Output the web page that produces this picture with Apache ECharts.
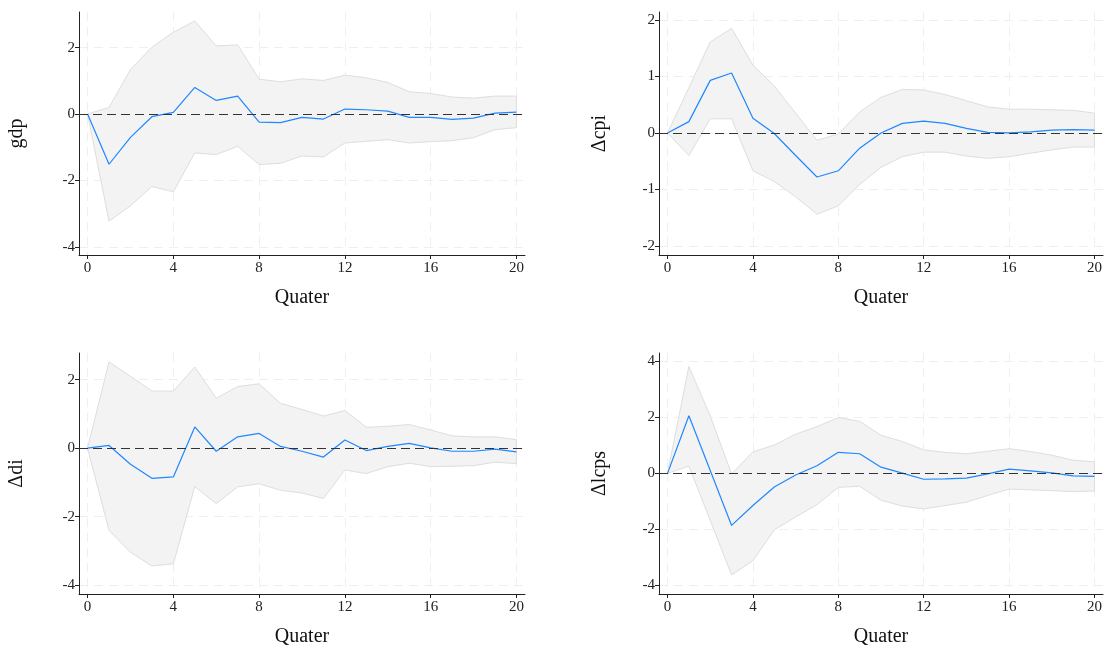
<!DOCTYPE html>
<html><head><meta charset="utf-8">
<script src="https://cdn.jsdelivr.net/npm/echarts@6/dist/echarts.min.js"></script>
<style>html,body{margin:0;padding:0;background:#fff}#c{width:1105px;height:648px}</style>
</head><body><div id="c"></div>
<script>
const quarters = [0,1,2,3,4,5,6,7,8,9,10,11,12,13,14,15,16,17,18,19,20];
const xTicks = [0,4,8,12,16,20];
const xTitle = 'Quater';

// gdp
const gdpIrf = [0,-1.51,-0.70,-0.08,0.05,0.80,0.41,0.54,-0.24,-0.26,-0.10,-0.15,0.15,0.13,0.09,-0.10,-0.10,-0.16,-0.12,0.03,0.06];
const gdpHi  = [0,0.20,1.34,2.01,2.46,2.80,2.05,2.08,1.05,0.97,1.06,1.01,1.17,1.09,0.95,0.67,0.62,0.51,0.48,0.54,0.54];
const gdpLo  = [0,-3.22,-2.76,-2.18,-2.34,-1.17,-1.22,-0.97,-1.52,-1.48,-1.26,-1.29,-0.87,-0.82,-0.77,-0.87,-0.83,-0.80,-0.71,-0.47,-0.41];
const gdpTicks = [-4,-2,0,2];

// Δcpi
const cpiIrf = [0,0.20,0.93,1.06,0.26,-0.01,-0.40,-0.78,-0.67,-0.27,0.00,0.17,0.21,0.17,0.08,0.01,0.00,0.02,0.05,0.06,0.05];
const cpiHi  = [0,0.80,1.61,1.85,1.20,0.83,0.35,-0.13,-0.02,0.37,0.63,0.77,0.76,0.68,0.57,0.46,0.42,0.42,0.41,0.40,0.35];
const cpiLo  = [0,-0.40,0.25,0.25,-0.67,-0.86,-1.13,-1.44,-1.29,-0.91,-0.61,-0.42,-0.34,-0.34,-0.41,-0.45,-0.42,-0.36,-0.30,-0.25,-0.25];
const cpiTicks = [-2,-1,0,1,2];

// Δdi
const diIrf = [0,0.08,-0.47,-0.88,-0.84,0.62,-0.09,0.33,0.43,0.05,-0.09,-0.26,0.24,-0.07,0.05,0.14,0.01,-0.09,-0.09,-0.03,-0.11];
const diHi  = [0,2.52,2.10,1.67,1.67,2.37,1.46,1.80,1.88,1.31,1.13,0.94,1.10,0.61,0.64,0.69,0.53,0.36,0.33,0.33,0.25];
const diLo  = [0,-2.40,-3.04,-3.44,-3.38,-1.12,-1.62,-1.13,-1.04,-1.23,-1.31,-1.47,-0.64,-0.74,-0.54,-0.44,-0.54,-0.53,-0.51,-0.41,-0.45];
const diTicks = [-4,-2,0,2];

// Δlcps
const lcpsIrf = [0,2.06,0.10,-1.86,-1.15,-0.49,-0.06,0.27,0.75,0.70,0.22,0.01,-0.21,-0.20,-0.17,-0.02,0.15,0.09,0.02,-0.09,-0.11];
const lcpsHi  = [0,3.82,2.05,-0.02,0.77,1.01,1.40,1.67,1.99,1.86,1.36,1.14,0.84,0.75,0.70,0.79,0.88,0.78,0.65,0.47,0.41];
const lcpsLo  = [0,0.26,-1.68,-3.63,-3.12,-2.02,-1.56,-1.12,-0.50,-0.46,-0.96,-1.17,-1.27,-1.15,-1.03,-0.79,-0.56,-0.59,-0.62,-0.65,-0.63];
const lcpsTicks = [-4,-2,0,2,4];

const panels = [
  {name:'gdp',   irf:gdpIrf,  hi:gdpHi,  lo:gdpLo,  ticks:gdpTicks,  min:-4.24, max:3.07, grid:{left:79,  top:12,  width:446, height:243}},
  {name:'Δcpi',  irf:cpiIrf,  hi:cpiHi,  lo:cpiLo,  ticks:cpiTicks,  min:-2.16, max:2.14, grid:{left:659, top:12,  width:445, height:243}},
  {name:'Δdi',   irf:diIrf,   hi:diHi,   lo:diLo,   ticks:diTicks,   min:-4.26, max:2.78, grid:{left:79,  top:353, width:446, height:243}},
  {name:'Δlcps', irf:lcpsIrf, hi:lcpsHi, lo:lcpsLo, ticks:lcpsTicks, min:-4.31, max:4.30, grid:{left:659, top:353, width:445, height:243}}
];

const FONT = 'Liberation Serif';
const grids=[], xAxes=[], yAxes=[], series=[];
panels.forEach((p,i)=>{
  grids.push(Object.assign({containLabel:false}, p.grid));
  const gridLine = {show:true, lineStyle:{color:'#efefef', type:[9,6], width:1}};
  xAxes.push({
    type:'value', gridIndex:i, min:-0.4, max:20.4,
    name:xTitle, nameLocation:'middle', nameGap:33,
    nameTextStyle:{fontFamily:FONT, fontSize:20, color:'#111'},
    axisLine:{show:true, onZero:false, lineStyle:{color:'#222', width:1}},
    axisTick:{show:true, length:4, customValues:xTicks, lineStyle:{color:'#222'}},
    axisLabel:{customValues:xTicks, fontFamily:FONT, fontSize:15, color:'#222', margin:6},
    splitLine:gridLine
  });
  yAxes.push({
    type:'value', gridIndex:i, min:p.min, max:p.max,
    name:p.name, nameLocation:'middle', nameGap: (i%2===0)?52:49,
    nameTextStyle:{fontFamily:FONT, fontSize:20, color:'#111'},
    axisLine:{show:true, onZero:false, lineStyle:{color:'#222', width:1}},
    axisTick:{show:true, length:4, customValues:p.ticks, lineStyle:{color:'#222'}},
    axisLabel:{customValues:p.ticks, fontFamily:FONT, fontSize:15, color:'#222', margin:4},
    splitLine:gridLine
  });
  // confidence band polygon
  series.push({
    type:'custom', xAxisIndex:i, yAxisIndex:i, silent:true, z:1, clip:false,
    data: quarters.map((q,k)=>[q,p.lo[k],p.hi[k]]),
    encode:{x:0, y:[1,2]},
    renderItem:(params, api)=>{
      if (params.dataIndex !== 0) return null;
      const pts=[];
      quarters.forEach((q,k)=>pts.push(api.coord([q,p.hi[k]])));
      for (let k=quarters.length-1;k>=0;k--) pts.push(api.coord([quarters[k],p.lo[k]]));
      return {type:'polygon', shape:{points:pts}, style:{fill:'#f3f3f3', stroke:'#dedede', lineWidth:1}};
    }
  });
  series.push({
    type:'line', xAxisIndex:i, yAxisIndex:i,
    data: quarters.map((q,k)=>[q,p.irf[k]]), symbol:'none', silent:true,
    lineStyle:{color:'#1f87ff', width:1.2}, z:3,
    markLine:{silent:true, symbol:'none', label:{show:false},
      lineStyle:{color:'#333', type:[9,5], width:1.2},
      data:[{yAxis:0}]}
  });
});

const chart = echarts.init(document.getElementById('c'));
chart.setOption({
  animation:false,
  backgroundColor:'#fff',
  grid:grids, xAxis:xAxes, yAxis:yAxes, series:series
});
</script>
</body></html>
